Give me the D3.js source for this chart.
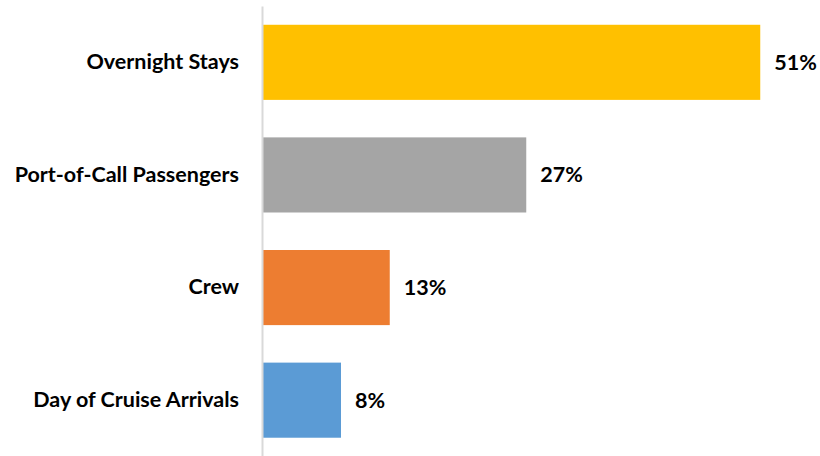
<!DOCTYPE html>
<html>
<head>
<meta charset="utf-8">
<script src="https://cdn.jsdelivr.net/npm/d3@7"></script>
<style>
  html, body { margin: 0; padding: 0; background: #fff; }
  svg { display: block; }
  text { font-family: Lato, "Open Sans", sans-serif; font-weight: bold; fill: #000; }
</style>
</head>
<body>
<svg id="chart" width="820" height="456"></svg>
<script>
// Share of visitors by segment
const categories = ["Overnight Stays", "Port-of-Call Passengers", "Crew", "Day of Cruise Arrivals"];
const values = [51, 27, 13, 8];
const colors = ["#FFC000", "#A5A5A5", "#ED7D31", "#5B9BD5"];

const width = 820, height = 456;
const margin = { left: 263, right: 0, top: 6, bottom: 0 };
const fontSize = 21.5;

const svg = d3.select("#chart");

const x = d3.scaleLinear()
  .domain([0, 100])
  .range([margin.left, margin.left + 975]);

const y = d3.scaleBand()
  .domain(categories)
  .range([margin.top, height + 0.5])
  .paddingInner(0.333)
  .paddingOuter(0.1667);

// Bars
svg.append("g")
  .selectAll("rect")
  .data(categories)
  .join("rect")
  .attr("x", x(0))
  .attr("y", d => y(d))
  .attr("width", (d, i) => x(values[i]) - x(0))
  .attr("height", y.bandwidth())
  .attr("fill", (d, i) => colors[i]);

// Category axis (line only, labels drawn beside it)
const yAxis = d3.axisLeft(y).tickSize(0).tickPadding(23);
const gy = svg.append("g")
  .attr("transform", `translate(${x(0) - 1},0)`)
  .call(yAxis);
gy.select(".domain").attr("stroke", "#D9D9D9").attr("stroke-width", 2);
gy.selectAll(".tick text")
  .attr("font-size", fontSize)
  .attr("font-family", "Lato, 'Open Sans', sans-serif")
  .attr("font-weight", "bold")
  .attr("fill", "#000");

// Value labels
svg.append("g")
  .selectAll("text")
  .data(categories)
  .join("text")
  .attr("x", (d, i) => x(values[i]) + 14)
  .attr("y", d => y(d) + y.bandwidth() / 2)
  .attr("dy", "0.35em")
  .attr("font-size", fontSize)
  .text((d, i) => values[i] + "%");
</script>
</body>
</html>
